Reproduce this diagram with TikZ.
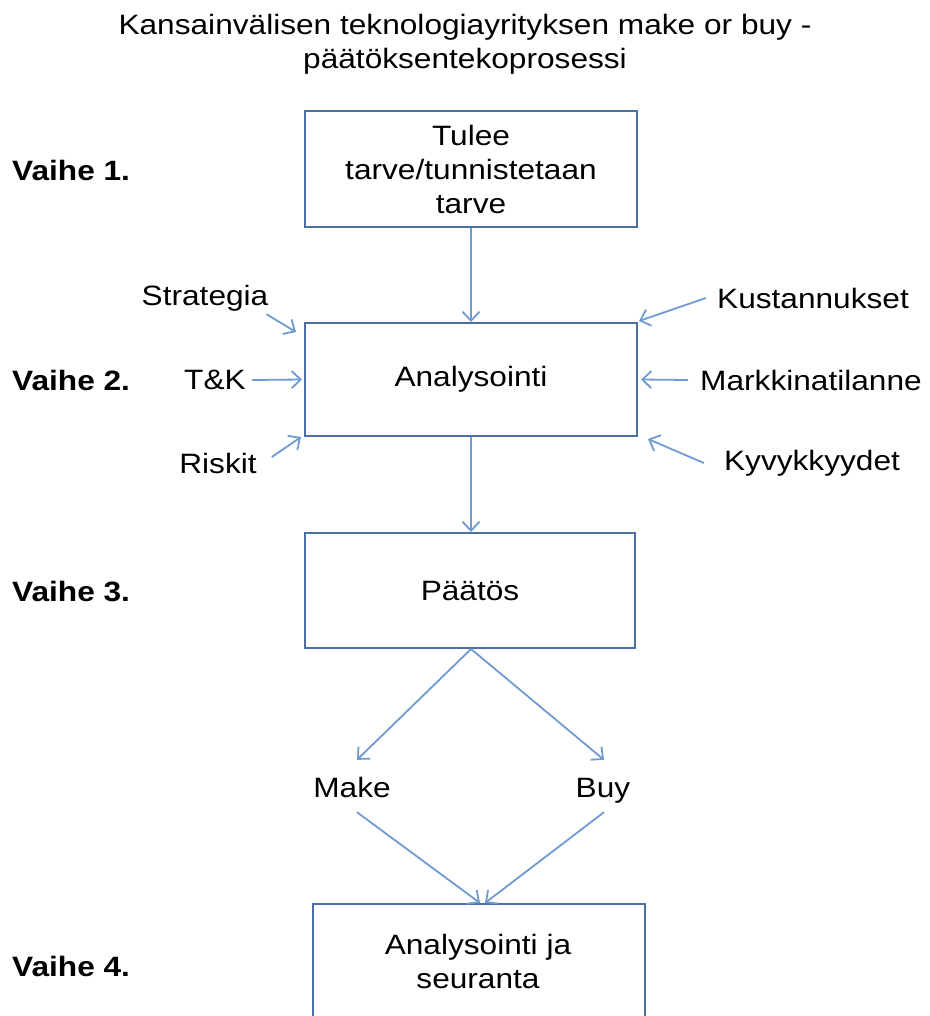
\documentclass[tikz,border=0pt]{standalone}
\usepackage{fontspec}
\setmainfont{Liberation Sans}[FakeStretch=1.13]
\usetikzlibrary{arrows.meta}
\definecolor{boxline}{HTML}{4A6FA5}
\definecolor{arrowline}{HTML}{6F9BD2}
\tikzset{
  txt/.style={font=\fontsize{28}{34}\selectfont, inner sep=0pt, align=center},
  outcome/.style={txt, text height=21pt, text depth=6pt},
  phase/.style={font=\fontsize{28}{34}\selectfont\bfseries, inner sep=0pt, anchor=west},
  stepbox/.style={draw=boxline, line width=2pt, minimum width=332pt, inner sep=0pt},
  flow/.style={draw=arrowline, line width=1.8pt,
    -{Straight Barb[length=9pt,width=17pt,line width=1.8pt]}}
}
\begin{document}
\begin{tikzpicture}[x=1pt, y=-1pt]
\clip (0,0) rectangle (929,1016);
\useasboundingbox (0,0) rectangle (929,1016);
\fill[white] (0,0) rectangle (929,1016);

% title
\node[txt] (title) at (465,44) {Kansainvälisen teknologiayrityksen make or buy -\\päätöksentekoprosessi};

% phase labels
\node[phase] (v1) at (12,170) {Vaihe 1.};
\node[phase] (v2) at (12,380) {Vaihe 2.};
\node[phase] (v3) at (12,592) {Vaihe 3.};
\node[phase] (v4) at (12,966) {Vaihe 4.};

% process boxes
\node[stepbox, minimum height=116pt, txt] (b1) at (471,169) {Tulee\\tarve/tunnistetaan\\tarve};
\node[stepbox, minimum height=113pt, txt] (b2) at (471,379.5) {Analysointi};
\node[stepbox, minimum height=115pt, minimum width=330pt, txt] (b3) at (470,590.5) {Päätös};
\node[stepbox, minimum height=150pt] (b4) at (479,979) {};
\node[txt] (b4text) at (478,961) {Analysointi ja\\seuranta};

% factors feeding the analysis
\node[txt] (strat) at (205,298) {Strategia};
\node[txt] (tk) at (215,380) {T\&K};
\node[txt] (risk) at (218,463) {Riskit};
\node[txt] (cost) at (813,298) {Kustannukset};
\node[txt] (market) at (811,380) {Markkinatilanne};
\node[txt] (capab) at (812,463) {Kyvykkyydet};

% outcomes
\node[outcome] (make) at (352,789.5) {Make};
\node[outcome] (buy) at (603,789.5) {Buy};

% main flow
\draw[flow] (b1.south) -- (b2.north);
\draw[flow] (b2.south) -- (b2.south |- b3.north);
\draw[flow] ([xshift=1pt]b3.south) -- ([xshift=5pt,yshift=16pt]make.north);
\draw[flow] ([xshift=1pt]b3.south) -- ([xshift=1pt,yshift=16pt]buy.north);
\draw[flow] ([xshift=5pt,yshift=-9pt]make.south) -- ([xshift=1pt]b4.north);
\draw[flow] ([xshift=1pt,yshift=-9pt]buy.south) -- ([xshift=6pt]b4.north);

% side arrows
\draw[flow] ([xshift=-2pt,yshift=-3pt]strat.south east) -- ([xshift=-8pt,yshift=-10pt]b2.north west);
\draw[flow] ([xshift=6pt]tk.east) -- ([xshift=-2pt]b2.west);
\draw[flow] ([xshift=15pt,yshift=6pt]risk.east) -- ([xshift=-3pt,yshift=0pt]b2.south west);
\draw[flow] ([xshift=-11pt,yshift=0pt]cost.west) -- ([xshift=1pt,yshift=1pt]b2.north east);
\draw[flow] ([xshift=-12pt]market.west) -- ([xshift=3pt]b2.east);
\draw[flow] ([xshift=-20pt,yshift=0pt]capab.west) -- ([xshift=10pt,yshift=-2pt]b2.south east);
\end{tikzpicture}
\end{document}
